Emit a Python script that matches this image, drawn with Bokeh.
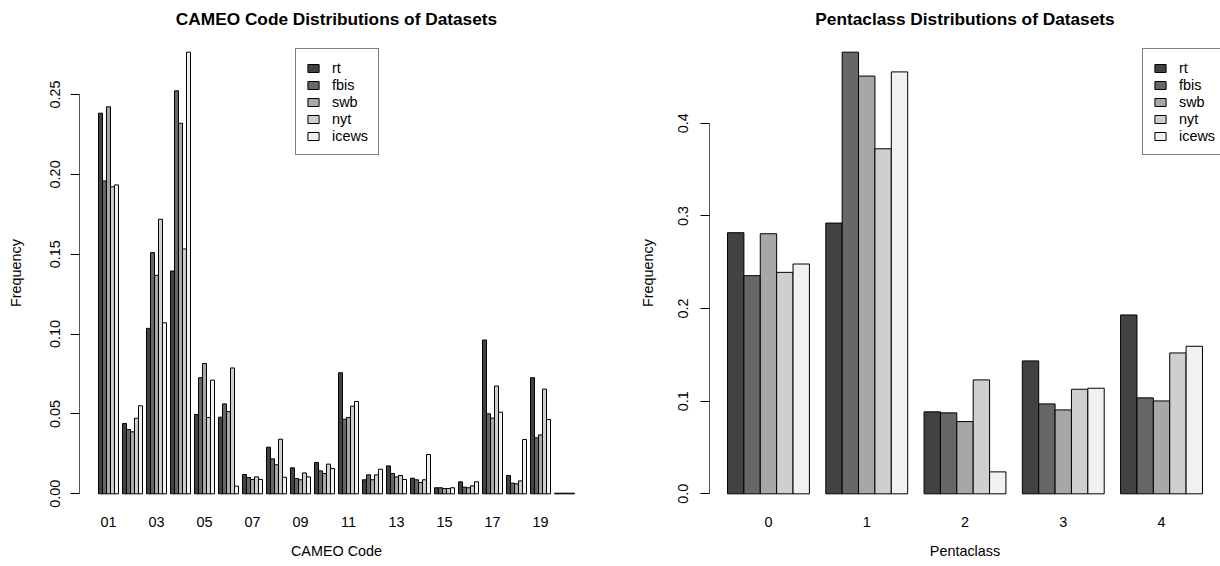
from bokeh.plotting import figure
from bokeh.models import (ColumnDataSource, FactorRange, Range1d, FixedTicker,
                          PrintfTickFormatter, CustomJSTickFormatter, Legend, LegendItem)
from bokeh.transform import dodge
from bokeh.layouts import row
from bokeh.embed import file_html
from bokeh.resources import INLINE

# ---------------- data ----------------
series = ["rt", "fbis", "swb", "nyt", "icews"]
colors = ["#424242", "#676767", "#a7a7a7", "#cfcfcf", "#f1f1f1"]

cameo_codes = ["01", "02", "03", "04", "05", "06", "07", "08", "09", "10",
               "11", "12", "13", "14", "15", "16", "17", "18", "19", "20"]
cameo_rt = [0.2383, 0.0440, 0.1036, 0.1395, 0.0497, 0.0480, 0.0121, 0.0292, 0.0163, 0.0196,
            0.0758, 0.0088, 0.0175, 0.0098, 0.0038, 0.0075, 0.0963, 0.0115, 0.0727, 0.0004]
cameo_fbis = [0.1959, 0.0403, 0.1510, 0.2523, 0.0727, 0.0563, 0.0102, 0.0219, 0.0096, 0.0144,
              0.0467, 0.0119, 0.0127, 0.0088, 0.0038, 0.0042, 0.0501, 0.0067, 0.0351, 0.0004]
cameo_swb = [0.2423, 0.0388, 0.1368, 0.2320, 0.0816, 0.0515, 0.0090, 0.0182, 0.0088, 0.0127,
             0.0478, 0.0088, 0.0106, 0.0071, 0.0033, 0.0038, 0.0474, 0.0063, 0.0369, 0.0004]
cameo_nyt = [0.1922, 0.0473, 0.1719, 0.1533, 0.0478, 0.0788, 0.0106, 0.0342, 0.0131, 0.0186,
             0.0549, 0.0119, 0.0115, 0.0088, 0.0033, 0.0050, 0.0675, 0.0081, 0.0656, 0.0004]
cameo_icews = [0.1934, 0.0551, 0.1071, 0.2765, 0.0712, 0.0048, 0.0090, 0.0104, 0.0106, 0.0158,
               0.0578, 0.0154, 0.0090, 0.0246, 0.0038, 0.0075, 0.0511, 0.0340, 0.0465, 0.0004]
cameo_ticks = [0.0, 0.05, 0.10, 0.15, 0.20, 0.25]

penta_classes = ["0", "1", "2", "3", "4"]
penta_rt = [0.2819, 0.2923, 0.0885, 0.1435, 0.1931]
penta_fbis = [0.2355, 0.4768, 0.0874, 0.0971, 0.1036]
penta_swb = [0.2808, 0.4510, 0.0780, 0.0906, 0.1003]
penta_nyt = [0.2391, 0.3725, 0.1230, 0.1129, 0.1521]
penta_icews = [0.2481, 0.4555, 0.0237, 0.1140, 0.1593]
penta_ticks = [0.0, 0.1, 0.2, 0.3, 0.4]

FONT = "Liberation Sans"
FS = "14.4px"


def make_panel(title, cats, data, ticks, fmt, xlabel, width, borders, pad,
               legend_loc, label_standoff, ylabel_standoff, skip_even=False):
    src = ColumnDataSource(dict(cat=cats, **{s: v for s, v in zip(series, data)}))
    ymax = max(max(v) for v in data)
    bl, br, bt, bb = borders
    p = figure(width=width, height=566, title=title,
               x_range=FactorRange(*cats, range_padding=pad, range_padding_units="absolute"),
               y_range=Range1d(-0.04 * ymax, 1.04 * ymax),
               output_backend="svg", toolbar_location=None,
               min_border_left=bl, min_border_right=br, min_border_top=bt, min_border_bottom=bb)
    n = len(series)
    items = []
    for i, (s, c) in enumerate(zip(series, colors)):
        off = (i - (n - 1) / 2) / (n + 1)
        r = p.vbar(x=dodge("cat", off, range=p.x_range), top=s, width=1 / (n + 1),
                   source=src, fill_color=c, line_color="black", line_width=1)
        items.append(LegendItem(label=s, renderers=[r]))

    p.xgrid.visible = False
    p.ygrid.visible = False
    p.outline_line_color = None
    p.background_fill_color = "white"
    p.border_fill_color = "white"

    p.title.align = "center"
    p.title.text_font = FONT
    p.title.text_font_size = "17.28px"
    p.title.text_font_style = "bold"
    p.title.text_color = "black"
    p.title.standoff = 11

    ya = p.yaxis[0]
    ya.ticker = FixedTicker(ticks=ticks)
    ya.bounds = (ticks[0], ticks[-1])
    ya.formatter = PrintfTickFormatter(format=fmt)
    ya.major_label_orientation = "vertical"
    ya.major_tick_out = 9
    ya.major_tick_in = 0
    ya.minor_tick_line_color = None
    ya.axis_line_color = "#555555"
    ya.major_tick_line_color = "black"
    ya.major_label_standoff = label_standoff
    ya.major_label_text_font = FONT
    ya.major_label_text_font_size = FS
    ya.major_label_text_color = "black"
    ya.axis_label = "Frequency"
    ya.axis_label_text_font = FONT
    ya.axis_label_text_font_size = FS
    ya.axis_label_text_font_style = "normal"
    ya.axis_label_text_color = "black"
    ya.axis_label_standoff = ylabel_standoff

    xa = p.xaxis[0]
    xa.axis_line_color = None
    xa.major_tick_line_color = None
    xa.minor_tick_line_color = None
    xa.major_tick_out = 0
    xa.major_tick_in = 0
    xa.major_label_standoff = 5
    xa.major_label_text_font = FONT
    xa.major_label_text_font_size = FS
    xa.major_label_text_color = "black"
    xa.axis_label = xlabel
    xa.axis_label_text_font = FONT
    xa.axis_label_text_font_size = FS
    xa.axis_label_text_font_style = "normal"
    xa.axis_label_text_color = "black"
    xa.axis_label_standoff = 13
    if skip_even:
        xa.formatter = CustomJSTickFormatter(code="return (index % 2 == 0) ? tick : '';")

    legend = Legend(items=items, location=legend_loc, orientation="vertical",
                    border_line_color="black", border_line_width=1,
                    background_fill_color="white", background_fill_alpha=1.0,
                    padding=10, spacing=0, margin=0,
                    glyph_width=14, glyph_height=10, label_standoff=12,
                    label_height=17, label_width=36,
                    label_text_font=FONT, label_text_font_size=FS,
                    label_text_color="black")
    p.add_layout(legend)
    return p


p1 = make_panel("CAMEO Code Distributions of Datasets", cameo_codes,
                [cameo_rt, cameo_fbis, cameo_swb, cameo_nyt, cameo_icews],
                cameo_ticks, "%.2f", "CAMEO Code", 610, (79, 17, 34, 55), 0.708,
                (216, 356), 10, 24, skip_even=True)
p2 = make_panel("Pentaclass Distributions of Datasets", penta_classes,
                [penta_rt, penta_fbis, penta_swb, penta_nyt, penta_icews],
                penta_ticks, "%.1f", "Pentaclass", 610, (99, 0, 34, 55), 0.10,
                (433, 356), 12, 20)

layout = row(p1, p2)
open("out.html", "w").write(file_html(layout, INLINE))
